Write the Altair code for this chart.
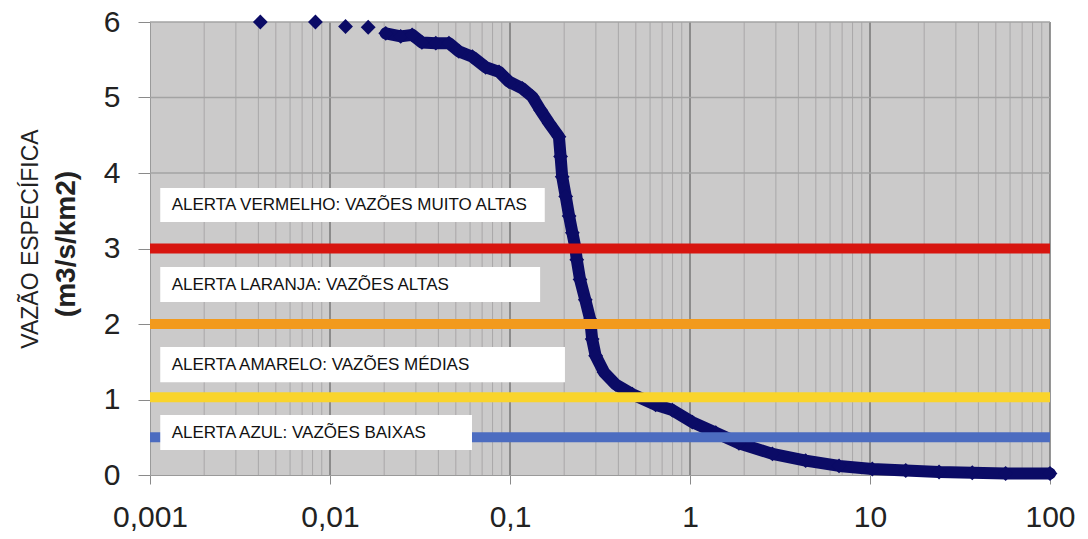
import altair as alt
import pandas as pd

# ---- data ----
prob_pct = [0.0041, 0.0083, 0.0122, 0.0163, 0.0204, 0.0247, 0.0286, 0.0324, 0.0387, 0.0458,
            0.052, 0.0618, 0.0733, 0.0869, 0.0987, 0.117, 0.133, 0.148, 0.165, 0.187,
            0.191, 0.195, 0.204, 0.213, 0.222, 0.230, 0.235, 0.245, 0.262, 0.279,
            0.286, 0.299, 0.333, 0.386, 0.478, 0.644, 0.798, 1.03, 1.39, 1.87,
            2.87, 4.39, 6.73, 10.3, 15.8, 24.2, 37.0, 56.7, 100]
vazao = [6.00, 6.00, 5.94, 5.93, 5.85, 5.81, 5.83, 5.73, 5.72, 5.72,
         5.61, 5.54, 5.40, 5.34, 5.21, 5.12, 5.01, 4.83, 4.66, 4.48,
         4.22, 3.95, 3.69, 3.43, 3.21, 3.03, 2.85, 2.59, 2.32, 2.06,
         1.80, 1.58, 1.36, 1.20, 1.07, 0.93, 0.86, 0.70, 0.56, 0.42,
         0.28, 0.19, 0.12, 0.08, 0.06, 0.04, 0.03, 0.02, 0.02]

x_decades = [0.001, 0.01, 0.1, 1, 10, 100]
y_ticks = [0, 1, 2, 3, 4, 5, 6]

alert_names = ["vermelho", "laranja", "amarelo", "azul"]
alert_levels = [3.0, 2.0, 1.03, 0.5]
alert_colors = ["#d7150f", "#f29a1d", "#f9d42c", "#4c6cc0"]

box_labels = ["ALERTA VERMELHO: VAZÕES MUITO ALTAS",
              "ALERTA LARANJA: VAZÕES ALTAS",
              "ALERTA AMARELO: VAZÕES MÉDIAS",
              "ALERTA AZUL: VAZÕES BAIXAS"]
box_x_start = [0.00114, 0.00114, 0.00114, 0.00114]
box_x_end = [0.156, 0.147, 0.202, 0.0615]
box_y_top = [3.80, 2.755, 1.695, 0.795]
box_y_bottom = [3.35, 2.29, 1.23, 0.33]
label_x = [0.00132, 0.00132, 0.00132, 0.00132]

y_title_1 = "VAZÃO ESPECÍFICA"
y_title_2 = "(m3/s/km2)"

# ---- tables ----
curve = pd.DataFrame({"x": prob_pct, "y": vazao})
minor = pd.DataFrame({"x": [d * m for d in x_decades[:-1] for m in range(2, 10)]})
major = pd.DataFrame({"x": x_decades[1:]})
hgrid = pd.DataFrame({"y": y_ticks[1:]})
alerts = pd.DataFrame({"nivel": alert_names, "y": alert_levels})
boxes = pd.DataFrame({"label": box_labels, "x": box_x_start, "x2": box_x_end,
                      "y": box_y_top, "y2": box_y_bottom, "lx": label_x,
                      "ly": [(a + b) / 2 for a, b in zip(box_y_top, box_y_bottom)]})

W, H = 900, 453
xs = alt.Scale(type="log", domain=[0.001, 100], nice=False)
ys = alt.Scale(domain=[0, 6], nice=False, zero=False)
NAVY = "#0b0b66"

x_axis = alt.Axis(values=x_decades, labelExpr="replace(toString(datum.value), '.', ',')",
                  title="", grid=False, labelFontSize=30, labelColor="#222222",
                  labelFont="Liberation Sans", tickSize=9, tickColor="#8a8a8a",
                  domainColor="#9a9a9a", labelPadding=18, labelFlush=False, labelOverlap=False)
y_axis = alt.Axis(values=y_ticks, title="", grid=False, labelFontSize=30,
                  labelColor="#222222", labelFont="Liberation Sans", tickSize=12,
                  tickColor="#8a8a8a", domainColor="#9a9a9a", labelPadding=18)


def X(field):
    return alt.X(field, type="quantitative", scale=xs, axis=x_axis)


def Y(field):
    return alt.Y(field, type="quantitative", scale=ys, axis=y_axis)


minor_l = alt.Chart(minor).mark_rule(color="#a9a7a8", strokeWidth=1).encode(x=X("x"))
major_l = alt.Chart(major).mark_rule(color="#7c7c7c", strokeWidth=1.6).encode(x=X("x"))
hgrid_l = alt.Chart(hgrid).mark_rule(color="#a3a3a3", strokeWidth=1.3).encode(y=Y("y"))

curve_line = alt.Chart(curve).transform_filter(alt.datum.x >= 0.02).mark_line(
    color=NAVY, strokeWidth=12, strokeCap="round", strokeJoin="round").encode(
    x=X("x"), y=Y("y"), order="x:Q")
curve_pts = alt.Chart(curve).mark_point(shape="diamond", filled=True, size=220,
                                        color=NAVY, opacity=1).encode(x=X("x"), y=Y("y"))

alert_l = alt.Chart(alerts).mark_rule(strokeWidth=10).encode(
    y=Y("y"),
    color=alt.Color("nivel:N", scale=alt.Scale(domain=alert_names, range=alert_colors), legend=None))

box_l = alt.Chart(boxes).mark_rect(color="white").encode(
    x=X("x"), x2="x2:Q", y=Y("y"), y2="y2:Q")
box_t = alt.Chart(boxes).mark_text(align="left", baseline="middle", fontSize=17,
                                   font="Liberation Sans", color="#111111").encode(
    x=X("lx"), y=Y("ly"), text="label:N")

t1 = alt.Chart(pd.DataFrame({"t": [y_title_1]})).mark_text(
    angle=270, align="center", baseline="middle", fontSize=23, font="Liberation Sans",
    color="#222222").encode(text="t:N", x=alt.value(-119), y=alt.value(217))
t2 = alt.Chart(pd.DataFrame({"t": [y_title_2]})).mark_text(
    angle=270, align="center", baseline="middle", fontSize=28, fontWeight="bold",
    font="Liberation Sans", color="#222222").encode(text="t:N", x=alt.value(-83), y=alt.value(222))

chart = alt.layer(minor_l, major_l, hgrid_l, curve_line, curve_pts, alert_l, box_l, box_t, t1, t2).properties(
    width=W, height=H,
    padding={"left": 142, "top": 14, "right": 30, "bottom": 56},
    autosize=alt.AutoSizeParams(type="none"),
    background="white",
).configure_view(fill="#cbcaca", strokeWidth=0)

chart.save("out.html", embed_options={"renderer": "svg", "actions": False})
